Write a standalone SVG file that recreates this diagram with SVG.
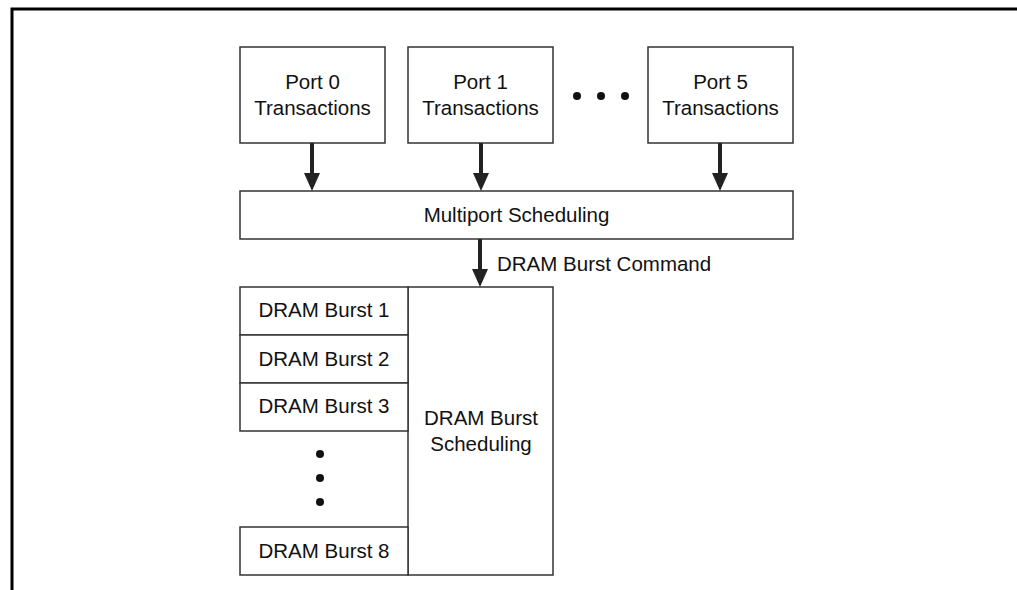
<svg xmlns="http://www.w3.org/2000/svg" width="1017" height="590" viewBox="0 0 1017 590">
<style>
.box{fill:#fff;stroke:#333;stroke-width:1.5}
.t{font-family:"Liberation Sans",Arial,sans-serif;font-size:20.5px;fill:#111;text-anchor:middle}
.conn{stroke:#222;stroke-width:4;fill:none}
.dot{fill:#111}
</style>
<defs>
<marker id="ah" markerUnits="userSpaceOnUse" markerWidth="18" markerHeight="16" refX="0" refY="8" orient="auto" viewBox="0 0 18 16">
<path d="M0,0 L18,8 L0,16 Z" fill="#222"/>
</marker>
</defs>
<path d="M12,590 V9 H1017" fill="none" stroke="#000" stroke-width="3"/>
<g id="port0"><rect class="box" x="240" y="47" width="145" height="96"/><text class="t" x="312.5" y="89">Port 0</text><text class="t" x="312.5" y="115">Transactions</text></g>
<g id="port1"><rect class="box" x="408" y="47" width="145" height="96"/><text class="t" x="480.5" y="89">Port 1</text><text class="t" x="480.5" y="115">Transactions</text></g>
<g id="port5"><rect class="box" x="648" y="47" width="145" height="96"/><text class="t" x="720.5" y="89">Port 5</text><text class="t" x="720.5" y="115">Transactions</text></g>
<g id="hdots"><circle class="dot" cx="577" cy="96" r="4"/><circle class="dot" cx="601" cy="96" r="4"/><circle class="dot" cx="625" cy="96" r="4"/></g>
<g id="multiport"><rect class="box" x="240" y="191" width="553" height="48"/><text class="t" x="516.5" y="222">Multiport Scheduling</text></g>
<g id="burstsched"><rect class="box" x="408" y="287" width="145" height="288"/><text class="t" x="481" y="425">DRAM Burst</text><text class="t" x="481" y="451">Scheduling</text></g>
<g id="burst1"><rect class="box" x="240" y="287" width="168" height="48"/><text class="t" x="324" y="317">DRAM Burst 1</text></g>
<g id="burst2"><rect class="box" x="240" y="335" width="168" height="48"/><text class="t" x="324" y="366">DRAM Burst 2</text></g>
<g id="burst3"><rect class="box" x="240" y="383" width="168" height="48"/><text class="t" x="324" y="413">DRAM Burst 3</text></g>
<g id="vdots"><circle class="dot" cx="320" cy="454" r="4"/><circle class="dot" cx="320" cy="478" r="4"/><circle class="dot" cx="320" cy="502" r="4"/></g>
<g id="burst8"><rect class="box" x="240" y="527" width="168" height="48"/><text class="t" x="324" y="558">DRAM Burst 8</text></g>
<g id="connectors">
<line class="conn" x1="312" y1="143" x2="312" y2="173" marker-end="url(#ah)"/>
<line class="conn" x1="481" y1="143" x2="481" y2="173" marker-end="url(#ah)"/>
<line class="conn" x1="720" y1="143" x2="720" y2="173" marker-end="url(#ah)"/>
<line class="conn" x1="480" y1="239" x2="480" y2="269" marker-end="url(#ah)"/>
<text class="t" x="497" y="271" style="text-anchor:start">DRAM Burst Command</text>
</g>
</svg>
